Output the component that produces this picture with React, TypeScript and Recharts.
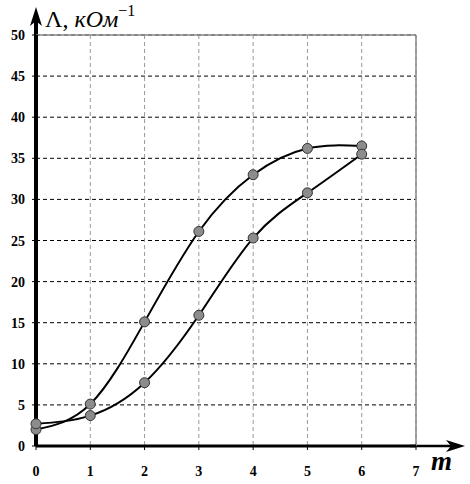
import React from 'react'
import { LineChart, Line, XAxis, YAxis, CartesianGrid, ReferenceLine } from 'recharts'

// m values (x axis)
const mValues = [0, 1, 2, 3, 4, 5, 6]
// upper curve, starts low at m=0 and crosses the other one
const curveA = [2.0, 5.1, 15.1, 26.1, 33.0, 36.2, 36.5]
// lower curve
const curveB = [2.7, 3.7, 7.7, 15.9, 25.3, 30.8, 35.5]

const xTicks = [0, 1, 2, 3, 4, 5, 6, 7]
const yTicks = [0, 5, 10, 15, 20, 25, 30, 35, 40, 45, 50]

const data = mValues.map((m, i) => ({ m, a: curveA[i], b: curveB[i] }))

const W = 470
const H = 484
const font = '"Liberation Serif", "Times New Roman", serif'

const dotStyle = { r: 5, fill: '#8c8c8c', stroke: '#333', strokeWidth: 1 }

const XTick = (props: any) => {
  const { x, y, payload } = props
  return (
    <text x={x} y={y + 12} textAnchor="middle" fontSize={14} fontWeight={700} fontFamily={font} fill="#000">
      {payload.value}
    </text>
  )
}

const YTick = (props: any) => {
  const { x, y, payload } = props
  return (
    <text x={x - 1} y={y + 5} textAnchor="end" fontSize={14} fontWeight={700} fontFamily={font} fill="#000">
      {payload.value}
    </text>
  )
}

export default function App() {
  return (
    <div style={{ position: 'absolute', left: 0, top: 0, width: W, height: H, background: '#fff' }}>
      {/* axis arrows and titles, behind the chart */}
      <svg width={W} height={H} style={{ position: 'absolute', left: 0, top: 0 }}>
        <line x1={36} y1={40} x2={36} y2={20} stroke="#000" strokeWidth={4} />
        <path d="M36,7 L30,26 L36,21 L42,26 Z" fill="#000" />
        <line x1={410} y1={446} x2={452} y2={446} stroke="#000" strokeWidth={2.5} />
        <path d="M465,446 L446,440 L451,446 L446,452 Z" fill="#000" />
        <text x={45} y={27} fontSize={24} fontFamily={font} fill="#000">
          Λ,{' '}
          <tspan fontStyle="italic">кОм</tspan>
          <tspan dy={-11} fontSize={16}>−1</tspan>
        </text>
        <text x={431} y={470} fontSize={27} fontWeight={700} fontStyle="italic" fontFamily={font} fill="#000">
          m
        </text>
      </svg>
      <div style={{ position: 'absolute', left: 0, top: 0 }}>
        <LineChart width={W} height={H} data={data} margin={{ top: 35, right: 54, bottom: 0, left: 0 }}>
          <CartesianGrid vertical={false} stroke="#000" strokeDasharray="4 3" />
          <CartesianGrid horizontal={false} stroke="#999" strokeDasharray="4 3" />
          <ReferenceLine y={50} stroke="#888" strokeWidth={1.5} />
          <ReferenceLine x={7} stroke="#888" strokeWidth={1.5} />
          <XAxis
            dataKey="m"
            type="number"
            domain={[0, 7]}
            ticks={xTicks}
            height={38}
            axisLine={{ stroke: '#000', strokeWidth: 3 }}
            tickLine={{ stroke: '#000' }}
            tickSize={4}
            tickMargin={14}
            tick={<XTick />}
            interval={0}
          />
          <YAxis
            type="number"
            domain={[0, 50]}
            ticks={yTicks}
            width={36}
            axisLine={{ stroke: '#000', strokeWidth: 4 }}
            tickLine={{ stroke: '#000' }}
            tickSize={4}
            tickMargin={6}
            tick={<YTick />}
            interval={0}
          />
          <Line
            type="natural"
            dataKey="a"
            stroke="#000"
            strokeWidth={2}
            dot={dotStyle}
            isAnimationActive={false}
          />
          <Line
            type="natural"
            dataKey="b"
            stroke="#000"
            strokeWidth={2}
            dot={dotStyle}
            isAnimationActive={false}
          />
        </LineChart>
      </div>
    </div>
  )
}
